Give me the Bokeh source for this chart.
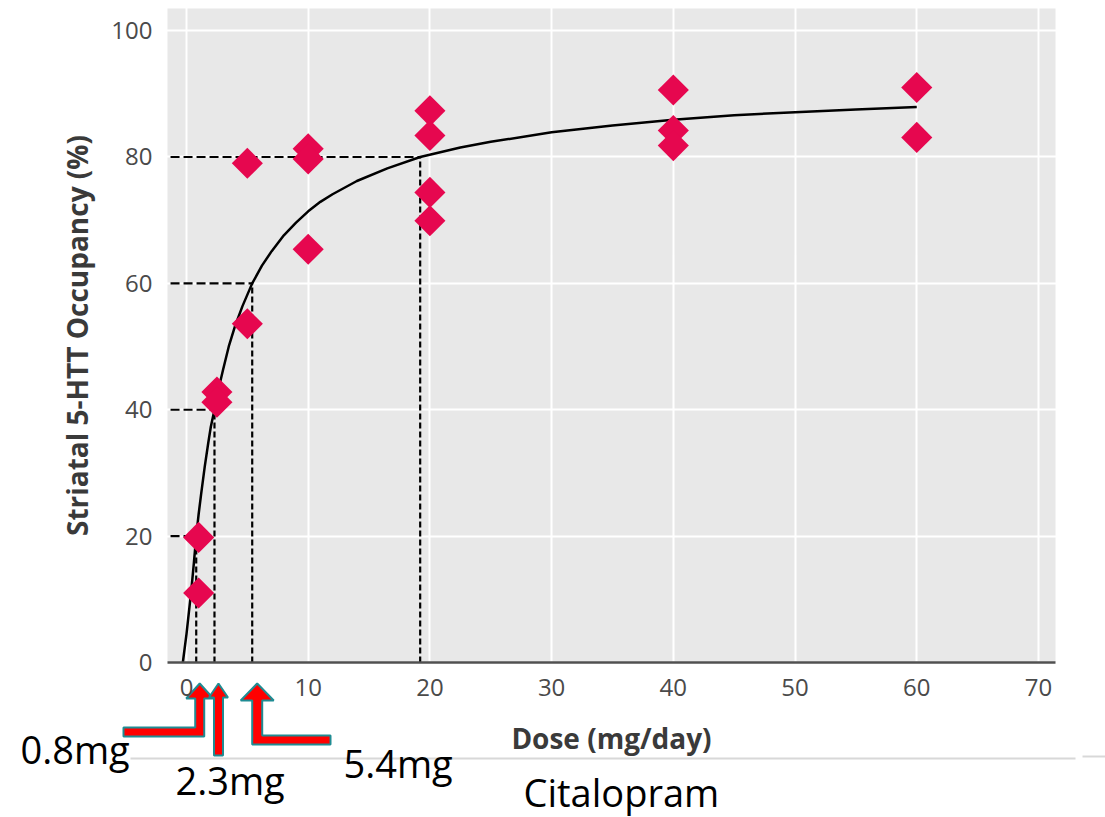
import math
from bokeh.plotting import figure
from bokeh.models import Range1d, FixedTicker
from bokeh.core.properties import value
from bokeh.embed import file_html
from bokeh.resources import INLINE

# ---------------- data ----------------
dose = [1, 1, 2.5, 2.5, 5, 5, 10, 10, 10, 20, 20, 20, 20, 40, 40, 40, 60, 60]
occupancy = [19.8, 11.0, 42.8, 41.2, 79.0, 53.6, 81.3, 79.7, 65.4,
             87.3, 83.4, 74.4, 69.9, 90.6, 84.2, 81.8, 91.0, 83.1]

curve_dose = [-0.3, 0.0, 0.2, 0.4, 0.6, 0.8, 1.0, 1.2, 1.5, 1.8, 2.0, 2.3, 2.6, 3.0,
              3.5, 4.0, 4.6, 5.4, 6.2, 7.0, 8.0, 9.0, 10, 11, 12, 14, 16.5, 19.2,
              22.5, 25, 30, 35, 40, 45, 50, 55, 60]
curve_occ = [0.0, 4.5, 8.0, 11.5, 15.6, 20.0, 23.5, 26.6, 31.0, 34.9, 37.3, 40.0,
             43.0, 46.3, 50.2, 53.3, 56.4, 60.0, 62.8, 65.1, 67.6, 69.6, 71.4, 72.9,
             74.1, 76.2, 78.2, 80.0, 81.5, 82.4, 83.9, 85.0, 85.9, 86.6, 87.1, 87.5, 87.9]

ref_dose = [0.8, 2.3, 5.4, 19.2]
ref_occ = [20, 40, 60, 80]

arrow_labels = ["0.8mg", "2.3mg", "5.4mg"]
drug_label = "Citalopram"

x_ticks = [0, 10, 20, 30, 40, 50, 60, 70]
y_ticks = [0, 20, 40, 60, 80, 100]

# ---------------- geometry ----------------
W, H = 1105, 817
FL, FT, FW, FH = 167, 8, 888, 654          # grey plotting panel in canvas pixels
X0, X1 = -1.56, 71.4                        # dose range covered by the grey panel
Y0, Y1 = 0.0, 103.5                         # occupancy range covered by the grey panel


def dx(px):
    return X0 + (px - FL) / FW * (X1 - X0)


def dy(py):
    return Y1 - (py - FT) / FH * (Y1 - Y0)


def px_of(x):
    return FL + (x - X0) / (X1 - X0) * FW


p = figure(frame_width=W, frame_height=H, min_border=0,
           min_border_left=0, min_border_right=0, min_border_top=0, min_border_bottom=0,
           x_range=Range1d(dx(0), dx(W)), y_range=Range1d(dy(H), dy(0)),
           output_backend="svg", toolbar_location=None)

p.background_fill_color = "white"
p.border_fill_color = "white"
p.outline_line_color = None

# grey panel (below grid lines)
p.quad(left=[X0], right=[X1], bottom=[Y0], top=[Y1], fill_color="#E8E8E8",
       line_color=None, level="image")

# grid (white lines; invisible on the white page outside the panel)
p.xgrid.ticker = FixedTicker(ticks=x_ticks)
p.ygrid.ticker = FixedTicker(ticks=y_ticks)
for g in (p.xgrid, p.ygrid):
    g.grid_line_color = "white"
    g.grid_line_width = 2

# axes fixed at the panel edges
p.xaxis.fixed_location = 0
p.yaxis.fixed_location = X0
p.xaxis.bounds = (X0, X1)
p.yaxis.bounds = (Y0, Y1)
p.xaxis.ticker = FixedTicker(ticks=x_ticks)
p.yaxis.ticker = FixedTicker(ticks=y_ticks)
for ax in (p.xaxis, p.yaxis):
    ax.major_tick_line_color = None
    ax.minor_tick_line_color = None
    ax.major_tick_out = 0
    ax.major_tick_in = 0
    ax.major_label_text_font = "Open Sans"
    ax.major_label_text_font_size = "24px"
    ax.major_label_text_color = "#4a4a4a"
    ax.axis_label_text_font = "Open Sans"
    ax.axis_label_text_font_style = "bold"
    ax.axis_label_text_font_size = "28px"
    ax.axis_label_text_color = "#3a3a3a"

p.xaxis.axis_line_color = "#505050"
p.xaxis.axis_line_width = 2.5
p.yaxis.axis_line_color = None
p.xaxis.major_label_standoff = 16
p.yaxis.major_label_standoff = 15
p.xaxis.axis_label = "Dose (mg/day)"
p.yaxis.axis_label = "Striatal 5-HTT Occupancy (%)"
p.xaxis.axis_label_standoff = 20
p.yaxis.axis_label_standoff = 12

# dashed reference lines
p.segment(x0=[X0 + 0.25] * len(ref_dose), y0=ref_occ, x1=ref_dose, y1=ref_occ,
          line_color="black", line_width=2.2, line_dash="9 4")
p.segment(x0=ref_dose, y0=[0] * len(ref_dose), x1=ref_dose, y1=ref_occ,
          line_color="black", line_width=2.2, line_dash="6 3")

# fitted curve
p.line(curve_dose, curve_occ, line_color="black", line_width=2.5)

# data points
p.scatter(dose, occupancy, marker="square", angle=math.pi / 4, size=22,
          fill_color="#E6074F", line_color=None)

# ---------------- annotations below the axis ----------------
RED = "#FF0000"
TEAL = "#1F8C93"
tip_y = 683

t1 = px_of(ref_dose[0]) + 3.5
t2 = px_of(ref_dose[1]) + 4
t3 = px_of(ref_dose[2]) + 5
shapes = [
    [(t1, tip_y), (t1 + 13.5, tip_y + 15), (t1 + 4.5, tip_y + 15), (t1 + 4.5, 736),
     (123, 736), (123, 727), (t1 - 4.5, 727), (t1 - 4.5, tip_y + 15), (t1 - 13.5, tip_y + 15)],
    [(t2, tip_y), (t2 + 9.5, tip_y + 14), (t2 + 4.5, tip_y + 14), (t2 + 4.5, 755),
     (t2 - 4.5, 755), (t2 - 4.5, tip_y + 14), (t2 - 9.5, tip_y + 14)],
    [(t3, tip_y), (t3 + 16.5, tip_y + 17), (t3 + 5, tip_y + 17), (t3 + 5, 735),
     (330, 735), (330, 744), (t3 - 5, 744), (t3 - 5, tip_y + 17), (t3 - 16.5, tip_y + 17)],
]

# faint separator line from the source page
p.segment(x0=[dx(130), dx(1082)], y0=[dy(758), dy(756)], x1=[dx(1075), dx(1105)],
          y1=[dy(758), dy(756)], line_color="#D8D8D8", line_width=2)

p.patches(xs=[[dx(a) for a, _ in s] for s in shapes],
          ys=[[dy(b) for _, b in s] for s in shapes],
          fill_color=RED, line_color=TEAL, line_width=2)

label_px = [(20, 748), (175, 779), (343, 762), (523, 791)]
p.text(x=[dx(a) for a, _ in label_px], y=[dy(b) for _, b in label_px],
       text=arrow_labels + [drug_label], text_font=value("Open Sans"),
       text_font_size="38px", text_color="black",
       text_align="left", text_baseline="alphabetic")

open("out.html", "w").write(file_html(p, INLINE))
